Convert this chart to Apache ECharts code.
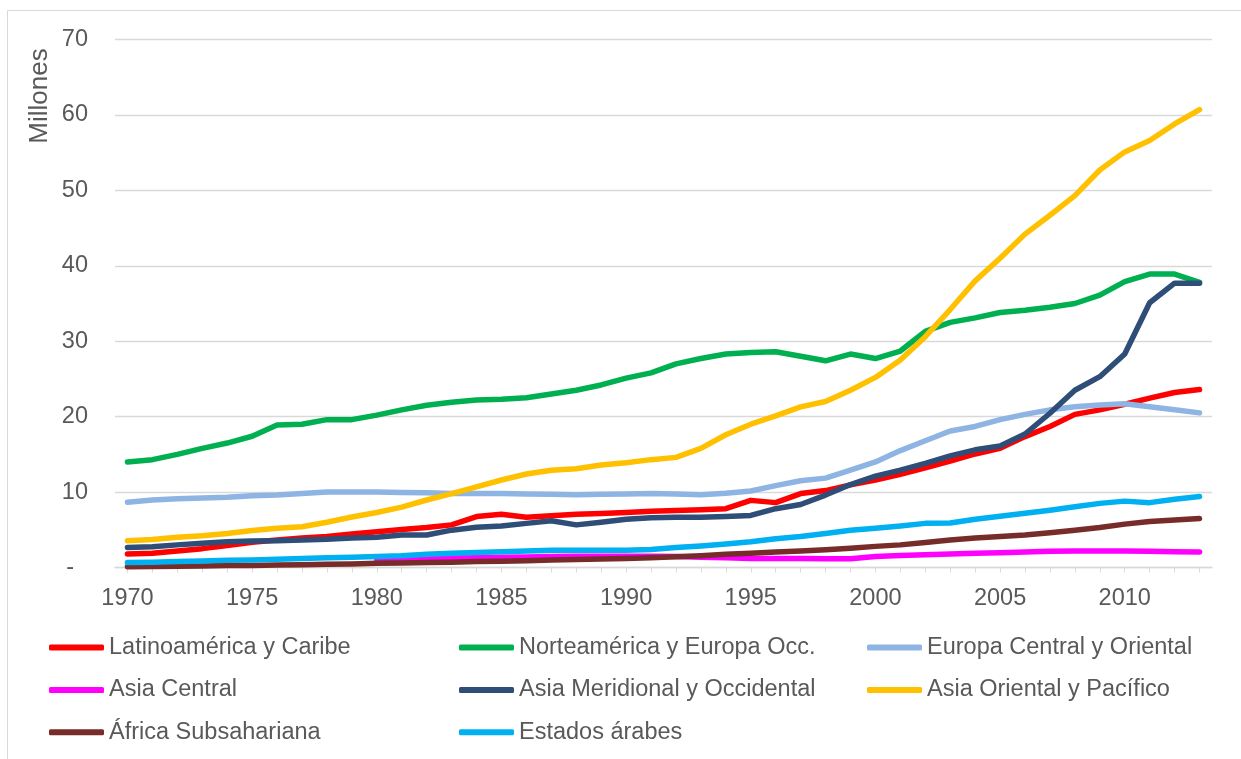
<!DOCTYPE html>
<html>
<head>
<meta charset="utf-8">
<script src="https://cdn.jsdelivr.net/npm/echarts@6/dist/echarts.min.js"></script>
<style>
  html, body { margin: 0; padding: 0; background: #fff; }
  #main { width: 1241px; height: 759px; }
</style>
</head>
<body>
<div id="main"></div>
<script>
// years on the x axis
var years = [];
for (var y = 1970; y <= 2013; y++) years.push(String(y));

var latinoamerica = [1.8, 1.9, 2.2, 2.5, 2.9, 3.35, 3.65, 3.9, 4.1, 4.45,
    4.75, 5.05, 5.3, 5.65, 6.75, 7.05, 6.65, 6.85, 7.05, 7.15,
    7.3, 7.45, 7.55, 7.65, 7.8, 8.9, 8.6, 9.8, 10.2, 10.95,
    11.6, 12.35, 13.2, 14.1, 15.05, 15.8, 17.35, 18.7, 20.3, 20.9,
    21.65, 22.45, 23.2, 23.6];
var norteamerica = [14.0, 14.3, 15.0, 15.8, 16.5, 17.4, 18.9, 19.0, 19.6, 19.6,
    20.2, 20.9, 21.5, 21.9, 22.2, 22.3, 22.5, 23.0, 23.5, 24.2,
    25.1, 25.8, 27.0, 27.7, 28.3, 28.5, 28.6, 28.0, 27.4, 28.3,
    27.7, 28.7, 31.3, 32.5, 33.1, 33.8, 34.1, 34.5, 35.0, 36.1,
    37.9, 38.9, 38.9, 37.8];
var europaCentral = [8.65, 8.95, 9.1, 9.2, 9.3, 9.5, 9.6, 9.8, 10.0, 10.0,
    10.0, 9.95, 9.9, 9.8, 9.8, 9.8, 9.75, 9.7, 9.65, 9.7,
    9.75, 9.8, 9.75, 9.65, 9.85, 10.15, 10.85, 11.5, 11.85, 12.9,
    14.0, 15.5, 16.8, 18.1, 18.7, 19.6, 20.3, 20.9, 21.3, 21.55,
    21.7, 21.3, 20.9, 20.5];
var asiaCentral = [null, null, null, null, null, null, null, null, null, null,
    1.1, 1.15, 1.2, 1.25, 1.3, 1.35, 1.4, 1.45, 1.5, 1.5,
    1.5, 1.5, 1.45, 1.35, 1.3, 1.2, 1.2, 1.2, 1.15, 1.15,
    1.45, 1.6, 1.7, 1.8, 1.9, 1.95, 2.05, 2.15, 2.2, 2.2,
    2.2, 2.15, 2.1, 2.05];
var asiaMeridional = [2.65, 2.75, 3.0, 3.2, 3.4, 3.5, 3.55, 3.65, 3.75, 3.9,
    4.0, 4.3, 4.3, 4.95, 5.35, 5.5, 5.85, 6.2, 5.65, 6.0,
    6.4, 6.6, 6.65, 6.65, 6.75, 6.9, 7.8, 8.35, 9.6, 11.0,
    12.1, 12.9, 13.8, 14.8, 15.6, 16.1, 17.7, 20.45, 23.5, 25.3,
    28.3, 35.1, 37.7, 37.7];
var asiaOriental = [3.55, 3.7, 4.0, 4.2, 4.5, 4.9, 5.2, 5.4, 6.0, 6.7,
    7.3, 8.0, 8.95, 9.8, 10.7, 11.6, 12.4, 12.9, 13.1, 13.6,
    13.9, 14.3, 14.6, 15.8, 17.6, 19.0, 20.1, 21.3, 22.0, 23.5,
    25.2, 27.5, 30.6, 34.2, 38.0, 41.0, 44.2, 46.7, 49.3, 52.7,
    55.1, 56.6, 58.8, 60.7];
var africa = [0.1, 0.12, 0.15, 0.2, 0.25, 0.28, 0.32, 0.38, 0.42, 0.48,
    0.55, 0.6, 0.65, 0.7, 0.78, 0.82, 0.9, 0.98, 1.05, 1.12,
    1.2, 1.3, 1.42, 1.55, 1.75, 1.9, 2.05, 2.2, 2.35, 2.55,
    2.8, 3.0, 3.3, 3.65, 3.9, 4.1, 4.3, 4.6, 4.95, 5.3,
    5.75, 6.1, 6.3, 6.5];
var arabes = [0.65, 0.7, 0.8, 0.85, 0.95, 1.0, 1.1, 1.2, 1.3, 1.35,
    1.45, 1.55, 1.75, 1.9, 2.0, 2.1, 2.2, 2.3, 2.3, 2.3,
    2.3, 2.4, 2.65, 2.85, 3.1, 3.4, 3.8, 4.1, 4.5, 4.95,
    5.2, 5.5, 5.85, 5.9, 6.4, 6.8, 7.2, 7.6, 8.05, 8.5,
    8.8, 8.6, 9.05, 9.4];

var names = ['Latinoamérica y Caribe', 'Norteamérica y Europa Occ.', 'Europa Central y Oriental',
    'Asia Central', 'Asia Meridional y Occidental', 'Asia Oriental y Pacífico',
    'África Subsahariana', 'Estados árabes'];
var colors = ['#FF0000', '#00B050', '#8EB4E3', '#FF00FF', '#2E4D77', '#FFC000', '#772C2A', '#00B0F0'];
var values = [latinoamerica, norteamerica, europaCentral, asiaCentral, asiaMeridional, asiaOriental, africa, arabes];

var txt = '#595959';
var fs = 23.5;

var series = names.map(function (n, i) {
    return {
        name: n,
        type: 'line',
        data: values[i],
        symbol: 'none',
        color: colors[i],
        lineStyle: { width: 5.5, color: colors[i], cap: 'round', join: 'round' }
    };
});

function legendCol(left, data) {
    return {
        orient: 'vertical',
        left: left,
        top: 629.5,
        data: data,
        icon: 'roundRect',
        itemWidth: 55,
        itemHeight: 6,
        itemGap: 16.4,
        textStyle: { color: txt, fontSize: fs, fontFamily: 'Liberation Sans, Arial', lineHeight: 26 }
    };
}

var myChart = echarts.init(document.getElementById('main'));
var option = {
    animation: false,
    grid: { left: 115, right: 29, top: 39.5, bottom: 191.5 },
    graphic: [
        { type: 'rect', shape: { x: 7.5, y: 10.5, width: 1300, height: 900 },
          style: { fill: 'none', stroke: '#d9d9d9', lineWidth: 1 }, silent: true },
        { type: 'text', x: 40, y: 96, rotation: Math.PI / 2,
          style: { text: 'Millones', fill: txt, fontSize: 26, fontFamily: 'Liberation Sans, Arial',
                   align: 'center', verticalAlign: 'middle' } }
    ],
    legend: [
        legendCol(44, [names[0], names[3], names[6]]),
        legendCol(454, [names[1], names[4], names[7]]),
        legendCol(862, [names[2], names[5]])
    ],
    xAxis: {
        type: 'category',
        data: years,
        boundaryGap: true,
        axisLine: { lineStyle: { color: '#d9d9d9', width: 1.3 } },
        axisTick: { show: true, interval: 0, alignWithLabel: true, length: 5, lineStyle: { color: '#d9d9d9' } },
        axisLabel: { interval: 4, color: txt, fontSize: fs, fontFamily: 'Liberation Sans, Arial', margin: 19 },
        splitLine: { show: false }
    },
    yAxis: {
        type: 'value',
        min: 0,
        max: 70,
        interval: 10,
        axisLine: { show: false },
        axisTick: { show: false },
        splitLine: { lineStyle: { color: '#d9d9d9', width: 1.3 } },
        axisLabel: {
            color: txt, fontSize: fs, fontFamily: 'Liberation Sans, Arial', margin: 27,
            formatter: function (v) { return v === 0 ? '{d|-}' : String(v); },
            rich: { d: { color: txt, fontSize: fs, fontFamily: 'Liberation Sans, Arial', padding: [0, 14, 0, 0] } }
        }
    },
    series: series
};
myChart.setOption(option);
</script>
</body>
</html>
